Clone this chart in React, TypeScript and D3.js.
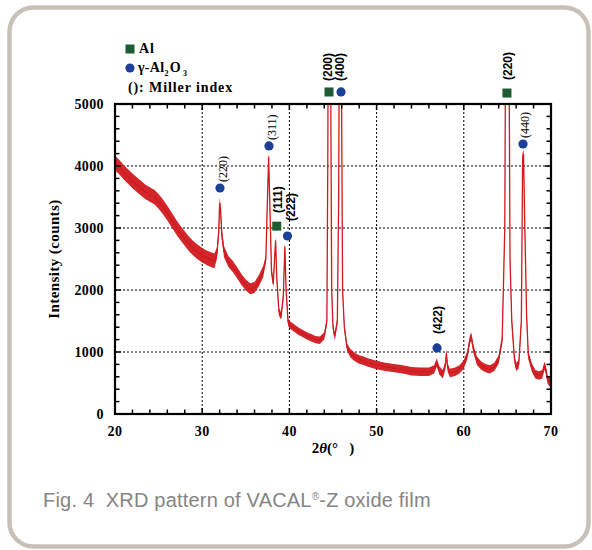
import React from "react"
import * as d3 from "d3"

// 2θ (deg), intensity (counts)
const scan: Array<[number, number]> = [
  [20.0, 4050], [20.5, 3980], [21.0, 3900], [21.5, 3830], [22.0, 3760], [22.5, 3700],
  [23.0, 3640], [23.5, 3580], [24.0, 3540], [24.5, 3500], [25.0, 3430], [25.5, 3340],
  [26.0, 3240], [26.5, 3130], [27.0, 3020], [27.5, 2920], [28.0, 2830], [28.5, 2740],
  [29.0, 2670], [29.5, 2610], [30.0, 2560], [30.5, 2520], [31.0, 2490], [31.4, 2470],
  [31.7, 2600], [31.9, 2950], [32.0, 3400], [32.1, 3300], [32.25, 2900], [32.5, 2620],
  [33.0, 2460], [33.5, 2380], [34.0, 2280], [34.5, 2170], [35.0, 2080], [35.5, 2020],
  [36.0, 2040], [36.5, 2150], [37.0, 2300], [37.3, 2500], [37.45, 3300], [37.62, 4150],
  [37.75, 3400], [37.95, 2300], [38.15, 2100], [38.3, 2500], [38.42, 2800], [38.55, 2200],
  [38.8, 1650], [39.05, 1580], [39.3, 1900], [39.48, 2700], [39.62, 2000], [39.85, 1480],
  [40.1, 1430], [40.5, 1390], [41.0, 1340], [41.5, 1300], [42.0, 1260], [42.5, 1230],
  [43.0, 1200], [43.5, 1190], [44.0, 1260], [44.3, 1500], [44.4, 4000], [44.5, 8000],
  [44.6, 9000], [44.7, 6500], [44.85, 2000], [45.0, 1400], [45.2, 1250], [45.5, 1500],
  [45.65, 3500], [45.78, 8000], [45.88, 9000], [45.95, 6000], [46.1, 2000], [46.3, 1400],
  [46.6, 1080], [47.0, 980], [47.5, 920], [48.0, 880], [48.5, 860], [49.0, 830],
  [49.5, 810], [50.0, 790], [51.0, 760], [52.0, 740], [53.0, 720], [54.0, 690],
  [55.0, 680], [56.0, 680], [56.6, 720], [56.9, 830], [57.2, 700], [57.6, 640],
  [57.9, 800], [58.0, 980], [58.15, 750], [58.4, 660], [59.0, 680], [59.5, 720],
  [60.0, 800], [60.4, 950], [60.7, 1200], [60.85, 1250], [61.1, 1050], [61.5, 860],
  [62.0, 780], [62.5, 740], [63.0, 720], [63.5, 760], [64.0, 880], [64.4, 1200],
  [64.7, 3000], [64.85, 8000], [65.0, 9000], [65.15, 7000], [65.3, 2500], [65.5, 1500],
  [65.8, 900], [66.0, 760], [66.3, 800], [66.6, 1500], [66.75, 4150], [66.85, 4200],
  [67.0, 3000], [67.2, 1600], [67.4, 950], [67.8, 750], [68.2, 640], [68.6, 620],
  [69.0, 640], [69.25, 780], [69.4, 720], [69.6, 560], [70.0, 480],
]

// half-width of the noise band: [from 2θ, to 2θ, counts]
const noiseBands: Array<[number, number, number]> = [
  [20, 31.5, 118], [31.5, 37.3, 90], [37.3, 47, 60], [47, 70.1, 68],
]

const xTicks = [20, 30, 40, 50, 60, 70]
const yTicks = [0, 1000, 2000, 3000, 4000, 5000]
const xGrid = [30, 40, 50, 60]
const yGrid = [1000, 2000, 3000, 4000]

// phase markers
const markerTheta = [32.04, 37.66, 38.55, 39.78, 44.54, 45.92, 56.93, 64.95, 66.79]
const markerCounts = [3645, 4323, 3030, 2871, 5194, 5194, 1065, 5177, 4355]
const markerPhase = ["oxide", "oxide", "al", "oxide", "al", "oxide", "oxide", "al", "oxide"]

// Miller index labels (text bottom end at theta / counts)
const labelText = ["(220)", "(311)", "(111)", "(222)", "(200)", "(400)", "(422)", "(220)", "(440)"]
const labelTheta = [32.36, 38.0, 38.69, 40.13, 44.43, 45.8, 57.04, 65.07, 67.0]
const labelCounts = [3742, 4419, 3242, 3113, 5371, 5371, 1290, 5387, 4452]
const labelBold = [false, false, true, true, true, true, true, true, false]

const RED = "#d01a20"
const GREEN = "#1b5c31"
const BLUE = "#1c3f98"
const SERIF = "'Liberation Serif', 'Times New Roman', serif"
const SANS = "'Liberation Sans', Arial, sans-serif"

const W = 592
const H = 550
const plot = {left: 115, right: 551, top: 104, bottom: 414}

const App = () => {
  const x = d3.scaleLinear().domain([20, 70]).range([plot.left, plot.right])
  const y = d3.scaleLinear().domain([0, 5000]).range([plot.bottom, plot.top])

  const noiseAt = (t: number) => {
    const b = noiseBands.find(n => t >= n[0] && t < n[1])
    return b ? b[2] : 60
  }

  const line = d3.line<[number, number]>()
    .x(d => x(d[0]))
    .y(d => y(d[1]))
  const band = d3.area<[number, number]>()
    .x(d => x(d[0]))
    .y0(d => y(d[1] - noiseAt(d[0])))
    .y1(d => y(d[1] + noiseAt(d[0])))

  const xMinor = d3.range(20, 70.01, 2)
  const yMinor = d3.range(0, 5000.1, 200)

  const tickLabel = {fontFamily: SERIF, fontWeight: 700, fontSize: 14, letterSpacing: 0.4}
  const legendText = {fontFamily: SERIF, fontWeight: 700, fontSize: 14, letterSpacing: 0.9}

  return (
    <svg width={W} height={H} style={{position: "absolute", left: 0, top: 0, background: "#fff"}}>
      <defs>
        <clipPath id="plotClip">
          <rect x={plot.left} y={plot.top} width={plot.right - plot.left} height={plot.bottom - plot.top}/>
        </clipPath>
      </defs>

      {/* frame */}
      <rect x={9.5} y={7.5} width={579} height={539} rx={24} fill="#fff" stroke="#c9c1b7" strokeWidth={4.5}/>

      {/* grid */}
      <g stroke="#000" strokeWidth={1} strokeDasharray="2,2">
        {xGrid.map(t => <line key={"gx" + t} x1={x(t)} x2={x(t)} y1={plot.top} y2={plot.bottom}/>)}
        {yGrid.map(t => <line key={"gy" + t} x1={plot.left} x2={plot.right} y1={y(t)} y2={y(t)}/>)}
      </g>

      {/* scan */}
      <g clipPath="url(#plotClip)">
        <path d={band(scan) || ""} fill={RED} opacity={0.95}/>
        <path d={line(scan) || ""} fill="none" stroke={RED} strokeWidth={1.3}/>
      </g>

      {/* ticks, inward on all sides */}
      <g stroke="#000" strokeWidth={1.5}>
        {xMinor.map(t => {
          const len = t % 10 === 0 ? 6 : 4.5
          return (
            <g key={"tx" + t}>
              <line x1={x(t)} x2={x(t)} y1={plot.bottom} y2={plot.bottom - len}/>
              <line x1={x(t)} x2={x(t)} y1={plot.top} y2={plot.top + len}/>
            </g>
          )
        })}
        {yMinor.map(t => {
          const len = t % 1000 === 0 ? 6 : 4.5
          return (
            <g key={"ty" + t}>
              <line x1={plot.left} x2={plot.left + len} y1={y(t)} y2={y(t)}/>
              <line x1={plot.right} x2={plot.right - len} y1={y(t)} y2={y(t)}/>
            </g>
          )
        })}
      </g>
      <rect x={plot.left} y={plot.top} width={plot.right - plot.left} height={plot.bottom - plot.top}
            fill="none" stroke="#000" strokeWidth={2.2}/>

      {/* tick labels */}
      {yTicks.map(t => (
        <text key={"ly" + t} x={plot.left - 11} y={y(t) + 5} textAnchor="end" {...tickLabel}>{t}</text>
      ))}
      {xTicks.map(t => (
        <text key={"lx" + t} x={x(t)} y={436} textAnchor="middle" {...tickLabel}>{t}</text>
      ))}

      {/* axis titles */}
      <text x={333} y={453} textAnchor="middle" fontFamily={SERIF} fontWeight={700} fontSize={15}
            style={{whiteSpace: "pre"}}>
        <tspan>2</tspan><tspan fontStyle="italic">θ</tspan><tspan>(°   )</tspan>
      </text>
      <text transform={`translate(53.5, ${(plot.top + plot.bottom) / 2}) rotate(-90)`} dy="0.35em"
            textAnchor="middle" fontFamily={SERIF} fontWeight={700} fontSize={15} letterSpacing={0.4}>
        Intensity (counts)
      </text>

      {/* phase markers */}
      {markerTheta.map((t, i) => markerPhase[i] === "al"
        ? <rect key={"m" + i} x={x(t) - 4.5} y={y(markerCounts[i]) - 4.5} width={9} height={9} fill={GREEN}/>
        : <circle key={"m" + i} cx={x(t)} cy={y(markerCounts[i])} r={4.6} fill={BLUE}/>
      )}

      {/* Miller index labels */}
      {labelText.map((s, i) => (
        <text key={"hkl" + i}
              transform={`translate(${x(labelTheta[i])}, ${y(labelCounts[i])}) rotate(-90)`}
              dy="0.35em" textAnchor="start"
              fontFamily={labelBold[i] ? SANS : SERIF}
              fontWeight={labelBold[i] ? 700 : 400}
              fontSize={12}>
          {s}
        </text>
      ))}

      {/* legend */}
      <rect x={125.5} y={44.5} width={9} height={9} fill={GREEN}/>
      <text x={139} y={53} {...legendText}>Al</text>
      <circle cx={130} cy={68} r={4.6} fill={BLUE}/>
      <text x={138} y={72} {...legendText} letterSpacing={0.3}>
        <tspan>γ-Al</tspan>
        <tspan fontSize={8} dy={4}>2</tspan>
        <tspan dy={-4} dx={1}>O</tspan>
        <tspan fontSize={8} dy={4} dx={2}>3</tspan>
      </text>
      <text x={128} y={92} {...legendText}>(): Miller index</text>

      {/* caption */}
      <text x={43} y={507} fontFamily={SANS} fontSize={20} letterSpacing={0.2} fill="#858585"
            style={{whiteSpace: "pre"}}>
        <tspan>Fig. 4  XRD pattern of VACAL</tspan>
        <tspan fontSize={10} dy={-7}>®</tspan>
        <tspan dy={7}>-Z oxide film</tspan>
      </text>
    </svg>
  )
}

export default App
